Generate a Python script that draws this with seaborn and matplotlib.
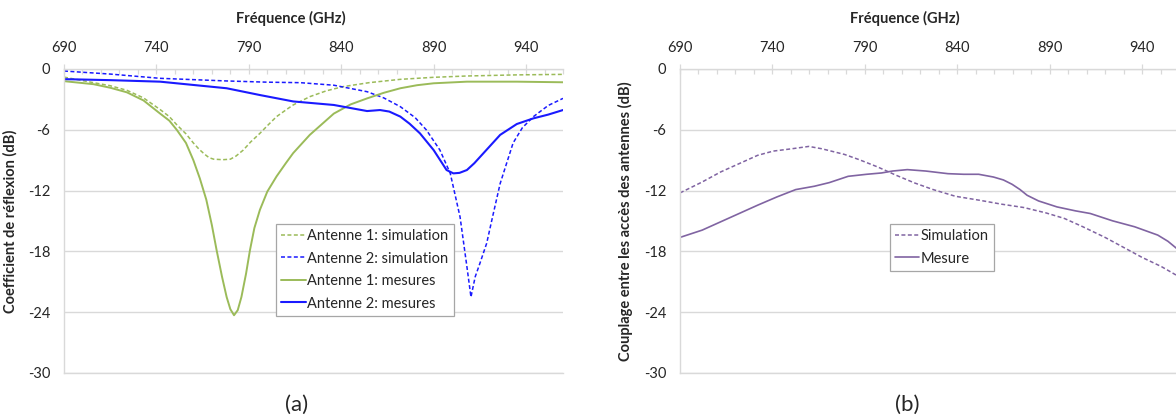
import matplotlib
matplotlib.use("Agg")
import matplotlib.pyplot as plt
import seaborn as sns

# data (frequency in GHz, level in dB)

# (a) reflexion coefficient
ant1_sim_f = [690, 706, 715, 724, 733, 742, 747, 751, 756, 760, 763, 766, 768.5, 771, 776, 780, 783, 787, 791, 796, 800, 805, 810, 814, 823, 832, 841, 855, 872, 890, 908, 935, 960]
ant1_sim_db = [-0.8, -1.35, -1.65, -2.1, -2.85, -4.0, -4.7, -5.5, -6.4, -7.3, -7.9, -8.4, -8.75, -8.9, -8.95, -8.9, -8.6, -8.0, -7.2, -6.35, -5.6, -4.7, -4.05, -3.55, -2.73, -2.15, -1.74, -1.35, -1.02, -0.82, -0.69, -0.58, -0.53]

ant2_sim_f = [690, 715, 742, 778, 800, 818, 836, 854, 863, 872, 880, 886, 893.4, 899, 904.3, 908, 910.2, 912.5, 915, 918.7, 922, 926, 933, 938, 944, 952, 960]
ant2_sim_db = [-0.2, -0.5, -0.92, -1.18, -1.3, -1.35, -1.6, -2.24, -2.85, -3.72, -4.8, -6.0, -8.0, -10.3, -14.6, -19.5, -22.5, -20.5, -19.2, -17.2, -14.5, -11.3, -7.3, -5.8, -4.7, -3.6, -2.9]

ant1_mes_f = [690, 706, 715, 724, 733, 742, 747, 751, 756, 760, 763.5, 767, 770, 772.6, 775.5, 778, 780, 782, 784, 786, 788.5, 790.6, 793, 796, 800, 805, 810, 814, 823, 836, 845, 854, 863, 872, 881, 890, 908, 935, 960]
ant1_mes_db = [-1.2, -1.5, -1.85, -2.3, -3.1, -4.4, -5.1, -6.0, -7.3, -9.0, -10.8, -12.9, -15.4, -17.9, -20.5, -22.5, -23.7, -24.3, -23.8, -22.5, -20.2, -17.9, -15.7, -13.9, -12.1, -10.6, -9.3, -8.3, -6.5, -4.4, -3.5, -2.9, -2.35, -1.9, -1.6, -1.41, -1.25, -1.25, -1.31]

ant2_mes_f = [690, 715, 742, 778, 796, 814, 836, 854, 861, 866, 872, 877, 882.6, 890, 897, 900.7, 904, 908, 912, 917, 926, 935, 944, 952, 960]
ant2_mes_db = [-1.0, -1.1, -1.25, -1.9, -2.57, -3.2, -3.55, -4.15, -4.05, -4.2, -4.7, -5.4, -6.35, -8.0, -9.97, -10.3, -10.25, -9.97, -9.3, -8.3, -6.5, -5.43, -4.87, -4.5, -4.05]

# (b) coupling between antenna ports
coup_sim_f = [690, 702, 712, 722, 732, 740.5, 750.6, 759.7, 766.7, 779, 787, 797, 807, 817, 827, 839, 852, 864, 876, 888, 898, 908, 920, 932, 940, 950.5, 960]
coup_sim_db = [-12.23, -11.15, -10.16, -9.34, -8.52, -8.1, -7.87, -7.64, -7.87, -8.43, -8.95, -9.67, -10.49, -11.25, -11.9, -12.56, -12.95, -13.34, -13.67, -14.2, -14.75, -15.57, -16.62, -17.8, -18.59, -19.5, -20.5]

coup_mes_f = [690, 702, 712, 722, 732, 742.5, 752.6, 762.7, 770.8, 781, 791, 799, 805, 813, 823, 835, 843.5, 851.6, 859.6, 865, 869.7, 874, 877.8, 884, 894, 904, 912, 924, 936, 948.5, 954, 960]
coup_mes_db = [-16.62, -15.9, -15.08, -14.26, -13.44, -12.62, -11.9, -11.57, -11.21, -10.59, -10.39, -10.26, -10.07, -9.93, -10.07, -10.33, -10.39, -10.39, -10.66, -10.95, -11.38, -11.9, -12.46, -13.02, -13.61, -14.0, -14.26, -14.98, -15.57, -16.39, -17.0, -17.9]

x_major = list(range(690, 961, 50))
x_minor = list(range(690, 961, 10))
y_ticks = [0, -6, -12, -18, -24, -30]

green = "#9bbb59"
blue = "#1a1aff"
purple = "#8064a2"
grid_col = "#d9d9d9"
dash = (0, (2.6, 1.6))

sns.set_style("white")
plt.rcParams['font.family'] = ['Lato', 'DejaVu Sans']

fig = plt.figure(figsize=(11.76, 4.2), dpi=100)
ax1 = fig.add_axes([64 / 1176, 47 / 420, 499 / 1176, 304 / 420])
ax2 = fig.add_axes([680 / 1176, 47 / 420, 499 / 1176, 304 / 420])

sns.lineplot(x=ant1_sim_f, y=ant1_sim_db, ax=ax1, color=green, lw=1.1, linestyle=dash, label="Antenne 1: simulation")
sns.lineplot(x=ant2_sim_f, y=ant2_sim_db, ax=ax1, color=blue, lw=1.1, linestyle=dash, label="Antenne 2: simulation")
sns.lineplot(x=ant1_mes_f, y=ant1_mes_db, ax=ax1, color=green, lw=1.4, label="Antenne 1: mesures")
sns.lineplot(x=ant2_mes_f, y=ant2_mes_db, ax=ax1, color=blue, lw=1.5, label="Antenne 2: mesures")

sns.lineplot(x=coup_sim_f, y=coup_sim_db, ax=ax2, color=purple, lw=1.1, linestyle=dash, label="Simulation")
sns.lineplot(x=coup_mes_f, y=coup_mes_db, ax=ax2, color=purple, lw=1.2, label="Mesure")


def style_axis(ax, ylabel, xlab_x):
    ax.set_xlim(690, 960)
    ax.set_ylim(-30, 0)
    ax.xaxis.tick_top()
    ax.xaxis.set_label_position('top')
    ax.set_xticks(x_major)
    ax.set_xticks(x_minor, minor=True)
    ax.set_xticklabels([str(t) for t in x_major])
    ax.set_yticks(y_ticks)
    ax.set_yticklabels([str(t) for t in y_ticks])
    ax.tick_params(axis='x', which='major', direction='inout', length=6.5, width=0.9,
                   color=grid_col, labelsize=10.5, pad=7, top=True, bottom=False)
    ax.tick_params(axis='x', which='minor', direction='in', length=3.6, width=0.9,
                   color=grid_col, top=True, bottom=False)
    ax.tick_params(axis='y', length=0, labelsize=10.5, pad=10)
    ax.grid(axis='y', color=grid_col, lw=1.0)
    ax.set_axisbelow(True)
    for side in ['top', 'left', 'bottom']:
        ax.spines[side].set_color(grid_col)
        ax.spines[side].set_linewidth(1.0)
    ax.spines['right'].set_visible(False)
    ax.set_xlabel("Fréquence (GHz)", fontsize=10.5, fontweight='bold')
    ax.xaxis.set_label_coords(xlab_x, 1.15)
    ax.set_ylabel(ylabel, fontsize=10.5, fontweight='bold')
    ax.yaxis.set_label_coords(-0.094, 0.5)


style_axis(ax1, "Coefficient de réflexion (dB)", (291 - 64) / 499)
style_axis(ax2, "Couplage entre les accès des antennes (dB)", (905 - 680) / 499)

leg_kw = dict(loc='upper left', borderaxespad=0, fontsize=10.5, fancybox=False, framealpha=1,
              edgecolor='#a6a6a6', handlelength=1.7, handletextpad=0.1, labelspacing=0.58,
              borderpad=0.35)
leg1 = ax1.legend(bbox_to_anchor=(0.425, 0.49), **leg_kw)
leg2 = ax2.legend(bbox_to_anchor=(0.42, 0.49), **leg_kw)
for leg in [leg1, leg2]:
    leg.get_frame().set_linewidth(0.9)

fig.text(297 / 1176, 1 - 405 / 420, "(a)", fontsize=16, ha='center', va='center')
fig.text(907 / 1176, 1 - 405 / 420, "(b)", fontsize=16, ha='center', va='center')

fig.savefig("out.png", dpi=100)
